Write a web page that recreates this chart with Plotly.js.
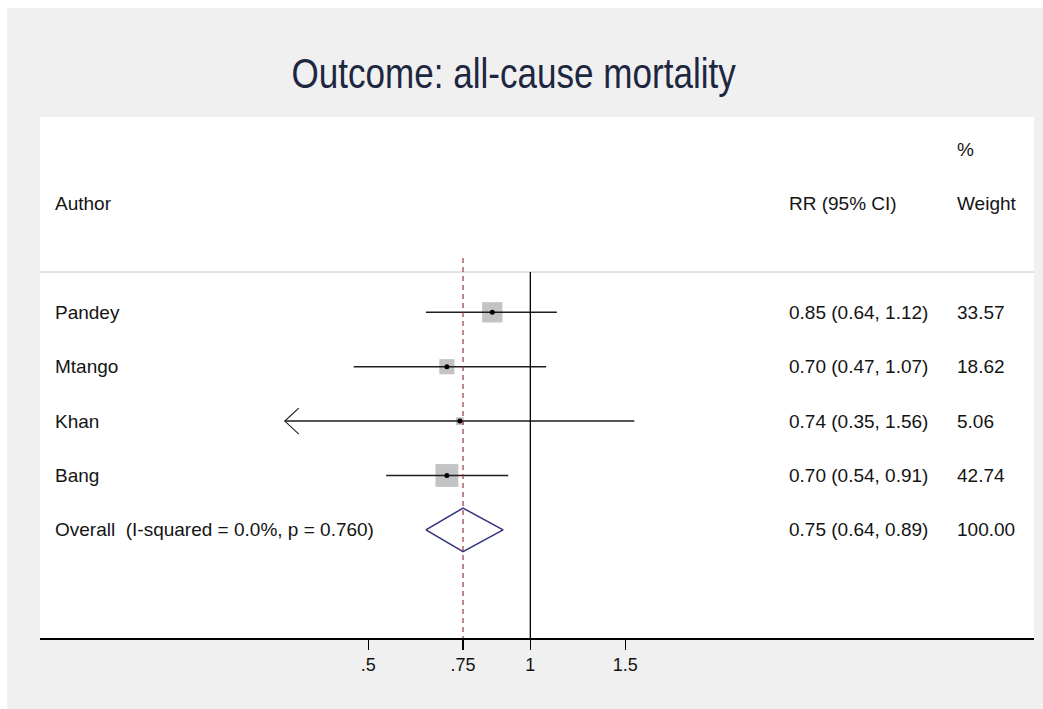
<!DOCTYPE html>
<html>
<head>
<meta charset="utf-8">
<script src="https://cdn.plot.ly/plotly-3.0.1.min.js"></script>
<style>
  html, body { margin: 0; padding: 0; background: #ffffff; }
  #chart { position: absolute; left: 7px; top: 8px; width: 1036px; height: 701px; }
</style>
</head>
<body>
<div id="chart"></div>
<script>
// ---- data ----
const authors = ['Pandey', 'Mtango', 'Khan', 'Bang'];
const rr = [0.85, 0.70, 0.74, 0.70];
const ciLow = [0.64, 0.47, 0.35, 0.54];
const ciHigh = [1.12, 1.07, 1.56, 0.91];
const weights = [33.57, 18.62, 5.06, 42.74];
const arrowLeft = [false, false, true, false];
const overallLabel = 'Overall\u00a0 (I-squared = 0.0%, p = 0.760)';
const overallRR = 0.75;
const overallLow = 0.64;
const overallHigh = 0.89;
const overallWeight = 100.00;
const tickVals = [0.5, 0.75, 1, 1.5];
const tickText = ['.5', '.75', '1', '1.5'];
const headerAuthor = 'Author';
const headerRR = 'RR (95% CI)';
const headerPct = '%';
const headerWeight = 'Weight';
const titleText = 'Outcome: all-cause mortality';

// ---- layout helpers ----
const rows = authors.map((_, i) => i + 1);
const overallRow = authors.length + 1;
const yTop = -2.59, yBottom = 6.987;
const sepY = 0.26;
const textFont = { family: 'Liberation Sans, Arial, sans-serif', size: 19, color: '#141414' };
const colAuthor = 0.0131, colRR = 0.7515, colW = 0.9205;

const fmt = v => v.toFixed(2);

const traces = [];
// weight boxes
traces.push({
  x: rr, y: rows, type: 'scatter', mode: 'markers', hoverinfo: 'skip',
  marker: { symbol: 'square', size: weights.map(w => 3.5 * Math.sqrt(w)), color: '#a9a9a9', line: { width: 0 } }
});
// CI lines
const cx = [], cy = [];
rows.forEach((r, i) => { cx.push(ciLow[i], ciHigh[i], null); cy.push(r, r, null); });
traces.push({ x: cx, y: cy, type: 'scatter', mode: 'lines', hoverinfo: 'skip', line: { color: '#1e1e1e', width: 1.5 } });
// arrows for truncated CIs
const ax = [], ay = [];
rows.forEach((r, i) => {
  if (arrowLeft[i]) { ax.push(ciLow[i] * 1.062, ciLow[i], ciLow[i] * 1.062, null); ay.push(r - 0.24, r, r + 0.24, null); }
});
traces.push({ x: ax, y: ay, type: 'scatter', mode: 'lines', hoverinfo: 'skip', line: { color: '#1e1e1e', width: 1.1 } });
// point estimates
traces.push({ x: rr, y: rows, type: 'scatter', mode: 'markers', hoverinfo: 'skip', marker: { symbol: 'circle', size: 5, color: '#000' } });
// overall diamond
traces.push({
  x: [overallLow, overallRR, overallHigh, overallRR, overallLow],
  y: [overallRow, overallRow - 0.4, overallRow, overallRow + 0.4, overallRow],
  type: 'scatter', mode: 'lines', hoverinfo: 'skip', line: { color: '#33337f', width: 1.6 }
});

const annotations = [];
const addText = (x, y, text) => annotations.push({
  xref: 'paper', yref: 'y', x: x, y: y, text: text, showarrow: false,
  xanchor: 'left', yanchor: 'middle', font: textFont
});
addText(colAuthor, -1, headerAuthor);
addText(colRR, -1, headerRR);
addText(colW, -2, headerPct);
addText(colW, -1, headerWeight);
rows.forEach((r, i) => {
  addText(colAuthor, r, authors[i]);
  addText(colRR, r, fmt(rr[i]) + ' (' + fmt(ciLow[i]) + ', ' + fmt(ciHigh[i]) + ')');
  addText(colW, r, fmt(weights[i]));
});
addText(colAuthor, overallRow, overallLabel);
addText(colRR, overallRow, fmt(overallRR) + ' (' + fmt(overallLow) + ', ' + fmt(overallHigh) + ')');
addText(colW, overallRow, fmt(overallWeight));

const shapes = [
  { type: 'line', xref: 'paper', yref: 'y', x0: 0, x1: 1, y0: sepY, y1: sepY, line: { color: '#c4c4c4', width: 1 } },
  { type: 'line', xref: 'x', yref: 'y', x0: 1, x1: 1, y0: sepY, y1: yBottom, line: { color: '#000', width: 1.3 } },
  { type: 'line', xref: 'x', yref: 'y', x0: overallRR, x1: overallRR, y0: 0, y1: yBottom, line: { color: '#8b2a2a', width: 1.1, dash: '5px,4px' } }
];

const layout = {
  width: 1036, height: 701,
  paper_bgcolor: '#f0f0f0', plot_bgcolor: '#ffffff',
  margin: { l: 33, r: 9, t: 109, b: 71 },
  showlegend: false,
  title: {
    text: titleText, xref: 'container', yref: 'container', x: 0.489, y: 0.907,
    xanchor: 'center', yanchor: 'middle',
    font: { family: 'Liberation Sans, Arial, sans-serif', size: 42, color: '#1e2740' }
  },
  xaxis: {
    type: 'log', range: [-0.9104, 0.9352], showgrid: false, zeroline: false,
    showline: true, linecolor: '#000', linewidth: 1.5,
    ticks: 'outside', ticklen: 10, tickwidth: 1.2, tickcolor: '#000',
    tickmode: 'array', tickvals: tickVals, ticktext: tickText,
    tickfont: { family: 'Liberation Sans, Arial, sans-serif', size: 18, color: '#141414' },
    fixedrange: true
  },
  yaxis: {
    range: [yBottom, yTop], showgrid: false, zeroline: false, showline: false,
    showticklabels: false, ticks: '', fixedrange: true
  },
  shapes: shapes,
  annotations: annotations
};

Plotly.newPlot('chart', traces, layout, { staticPlot: true, displayModeBar: false }).then(gd => {
  // the reference title uses a narrow face: compress the title text horizontally
  const t = gd.querySelector('.gtitle');
  if (t) {
    const cxp = parseFloat(t.getAttribute('x')) || 0;
    const prev = t.getAttribute('transform') || '';
    t.setAttribute('transform', prev + ' translate(' + cxp + ',0) scale(0.835,1) translate(' + (-cxp) + ',0)');
  }
});
</script>
</body>
</html>
